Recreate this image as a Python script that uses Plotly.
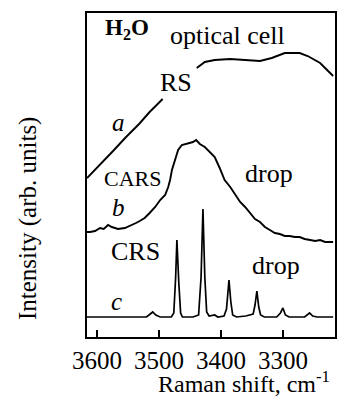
import plotly.graph_objects as go

# ---- data (x: Raman shift cm^-1, y: arbitrary units) ----
a1_x = [3616, 3595, 3574, 3553, 3532, 3515, 3494]
a1_y = [159, 172, 186, 200, 213, 225, 238]
a2_x = [3439, 3426, 3410, 3385, 3361, 3337, 3318, 3297, 3281, 3273, 3260, 3248, 3240, 3232, 3219]
a2_y = [269, 275, 277, 278, 277, 276, 279, 284, 284, 284, 281, 277, 274, 269, 261]

b_x = [3616, 3611, 3603, 3595, 3589, 3582, 3576, 3566, 3555, 3547, 3537, 3531, 3523, 3515, 3506,
       3498, 3490, 3485, 3482, 3479, 3474, 3469, 3463, 3456, 3450, 3445, 3440, 3434, 3426, 3418,
       3410, 3402, 3394, 3385, 3377, 3369, 3361, 3353, 3345, 3337, 3329, 3321, 3313, 3305, 3297,
       3289, 3281, 3273, 3265, 3256, 3248, 3240, 3232, 3219]
b_y = [105, 105, 106, 109, 108, 112, 110, 108, 109, 111, 114, 116, 119, 124, 130,
       137, 142, 150, 157, 167, 177, 187, 192, 193, 194, 195, 197, 193, 190, 185,
       180, 169, 157, 150, 143, 135, 130, 124, 118, 115, 110, 107, 104, 103, 101,
       101, 100, 100, 98, 97, 96, 97, 95, 95]

c_x = [3616, 3540, 3520, 3514, 3510, 3505, 3498, 3480, 3476, 3473, 3471, 3468, 3465, 3462,
       3445, 3436, 3432, 3429, 3426, 3423, 3419, 3410, 3405, 3395, 3391, 3387, 3384, 3381,
       3375, 3360, 3348, 3345, 3342, 3339, 3336, 3330, 3310, 3304, 3300, 3296, 3290, 3265,
       3260, 3257, 3252, 3245, 3219]
c_y = [20, 20, 20, 23, 25, 22, 20, 20, 24, 60, 97, 55, 24, 20,
       20, 22, 60, 128, 60, 25, 21, 22, 20, 21, 28, 57, 35, 22,
       20, 21, 23, 32, 46, 30, 22, 20, 20, 24, 29, 22, 20, 20,
       23, 24, 21, 20, 20]

x_ticks = [3600, 3500, 3400, 3300]

# ---- figure ----
W, H = 349, 397
L, R, T, B = 87, 14, 13, 60
FONT = "Liberation Serif, Times New Roman, serif"

fig = go.Figure()
line = dict(color="black", width=1.9)
fig.add_trace(go.Scatter(x=a1_x, y=a1_y, mode="lines", line=line, hoverinfo="skip"))
fig.add_trace(go.Scatter(x=a2_x, y=a2_y, mode="lines", line=line, hoverinfo="skip"))
fig.add_trace(go.Scatter(x=b_x, y=b_y, mode="lines", line=line, hoverinfo="skip"))
fig.add_trace(go.Scatter(x=c_x, y=c_y, mode="lines", line=dict(color="black", width=1.7), hoverinfo="skip"))

pw, ph = W - L - R, H - T - B


def px(xpix):
    return (xpix - L) / pw


def py(ypix):
    return (H - B - ypix) / ph


def label(text, xpix, ypix, size, italic=False):
    t = f"<i>{text}</i>" if italic else text
    fig.add_annotation(text=t, x=px(xpix), y=py(ypix), xref="paper", yref="paper",
                       showarrow=False, xanchor="center", yanchor="middle",
                       font=dict(family=FONT, size=size, color="black"))


label("<b>H<sub>2</sub>O</b>", 127, 29, 23)
label("optical cell", 227, 36, 26)
label("RS", 176, 83, 26)
label("a", 118, 122, 25, italic=True)
label("CARS", 132, 178, 22)
label("drop", 269, 173, 26)
label("b", 118, 207, 25, italic=True)
label("CRS", 135, 252, 26)
label("drop", 276, 265, 26)
label("c", 116, 301, 25, italic=True)

# axis titles
fig.add_annotation(text="Raman shift, cm<sup>-1</sup>", x=px(244), y=py(382), xref="paper", yref="paper",
                   showarrow=False, xanchor="center", yanchor="middle",
                   font=dict(family=FONT, size=24, color="black"))
fig.add_annotation(text="Intensity (arb. units)", x=px(28), y=py(219), xref="paper", yref="paper",
                   showarrow=False, xanchor="center", yanchor="middle", textangle=-90,
                   font=dict(family=FONT, size=25, color="black"))

fig.update_layout(
    width=W, height=H,
    margin=dict(l=L, r=R, t=T, b=B, pad=0),
    paper_bgcolor="white", plot_bgcolor="white",
    showlegend=False,
    xaxis=dict(range=[3616, 3216], tickvals=x_ticks, ticktext=[str(v) for v in x_ticks],
               ticks="inside", ticklen=7, tickwidth=1.8, tickcolor="black",
               showline=True, linecolor="black", linewidth=2, mirror=True,
               showgrid=False, zeroline=False,
               tickfont=dict(family=FONT, size=25, color="black")),
    yaxis=dict(range=[0, 324], showticklabels=False, ticks="",
               showline=True, linecolor="black", linewidth=2, mirror=True,
               showgrid=False, zeroline=False),
)

fig.write_html("out.html")
